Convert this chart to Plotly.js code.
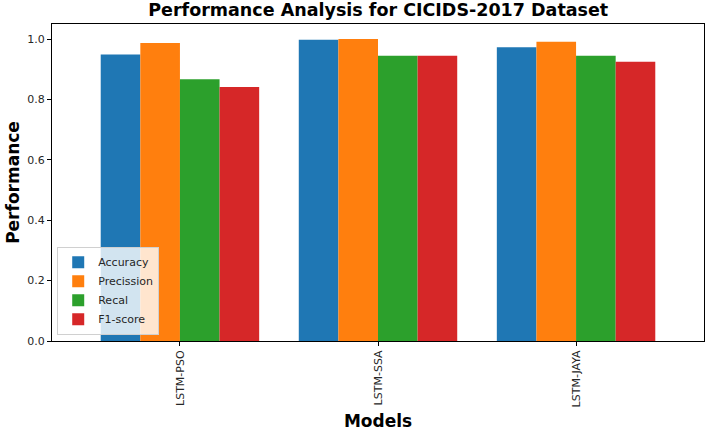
<!DOCTYPE html>
<html>
<head>
<meta charset="utf-8">
<script src="https://cdn.plot.ly/plotly-3.0.1.min.js"></script>
<style>
  html, body { margin: 0; padding: 0; background: #fff; }
  #chart { width: 707px; height: 431px; }
</style>
</head>
<body>
<div id="chart"></div>
<script>
const models = ['LSTM-PSO', 'LSTM-SSA', 'LSTM-JAYA']
const accuracy = [0.949, 0.998, 0.973]
const precission = [0.987, 1.0, 0.991]
const recal = [0.867, 0.945, 0.945]
const f1score = [0.841, 0.945, 0.925]

const seriesNames = ['Accuracy', 'Precission', 'Recal', 'F1-score']
const seriesValues = [accuracy, precission, recal, f1score]
const colors = ['#1f77b4', '#ff7f0e', '#2ca02c', '#d62728']

const font = 'DejaVu Sans, sans-serif'

const data = seriesNames.map((name, i) => ({
  type: 'bar',
  name: name,
  x: models,
  y: seriesValues[i],
  marker: { color: colors[i], line: { width: 0 } },
  hoverinfo: 'none',
}))

const axisBase = {
  showline: true,
  linecolor: '#000',
  linewidth: 1,
  mirror: true,
  showgrid: false,
  zeroline: false,
  ticks: 'outside',
  ticklen: 4,
  tickcolor: '#000',
  tickfont: { family: font, size: 11, color: '#262626' },
}

const layout = {
  width: 707,
  height: 431,
  margin: { l: 52, r: 3, t: 24, b: 90 },
  paper_bgcolor: '#fff',
  plot_bgcolor: '#fff',
  font: { family: font, color: '#000' },
  barmode: 'group',
  bargap: 0.2,
  bargroupgap: 0,
  showlegend: true,
  title: {
    text: '<b>Performance Analysis for CICIDS-2017 Dataset</b>',
    font: { family: font, size: 17.5, color: '#000' },
    x: 0.535,
    xanchor: 'center',
    y: 0.977,
    yanchor: 'middle',
  },
  xaxis: {
    ...axisBase,
    type: 'category',
    range: [-0.646, 2.646],
    tickangle: -90,
    title: {
      text: '<b>Models</b>',
      font: { family: font, size: 17, color: '#000' },
      standoff: 9,
    },
  },
  yaxis: {
    ...axisBase,
    range: [0, 1.05],
    tickvals: [0, 0.2, 0.4, 0.6, 0.8, 1.0],
    tickformat: '.1f',
    title: {
      text: '<b>Performance</b>',
      font: { family: font, size: 17, color: '#000' },
      standoff: 3,
    },
  },
  legend: {
    x: 0.008,
    y: 0.02,
    xanchor: 'left',
    yanchor: 'bottom',
    bgcolor: 'rgba(255,255,255,0.8)',
    bordercolor: '#d0d0d0',
    borderwidth: 1,
    font: { family: font, size: 11, color: '#262626' },
    tracegroupgap: 0,
    itemwidth: 30,
  },
}

Plotly.newPlot('chart', data, layout, { displayModeBar: false, staticPlot: true })
</script>
</body>
</html>
